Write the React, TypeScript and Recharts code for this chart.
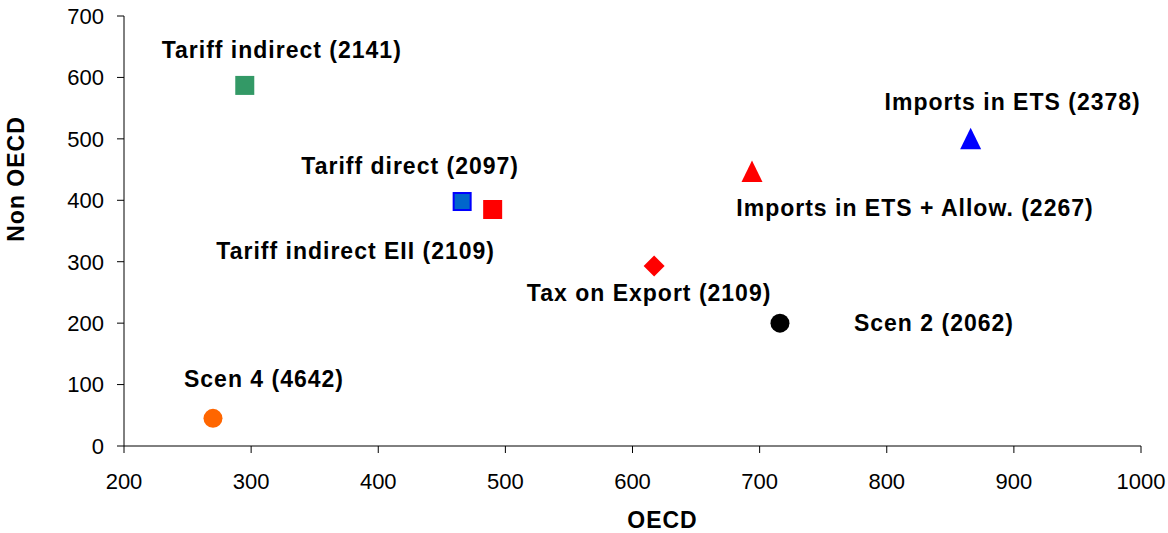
import React from "react";
import { ScatterChart, Scatter, XAxis, YAxis } from "recharts";

const scenarios = [
  "Tariff indirect",
  "Tariff direct",
  "Tariff indirect EII",
  "Tax on Export",
  "Imports in ETS + Allow.",
  "Imports in ETS",
  "Scen 2",
  "Scen 4",
];
const totals = [2141, 2097, 2109, 2109, 2267, 2378, 2062, 4642];
const oecd = [295, 466, 490, 617, 694, 866, 716, 270];
const nonOecd = [587, 398, 385, 293, 447, 500, 200, 45];
const xTicks = [200, 300, 400, 500, 600, 700, 800, 900, 1000];
const yTicks = [0, 100, 200, 300, 400, 500, 600, 700];

// marker look and where the label sits relative to the marker (px)
const styles = [
  { shape: "square", fill: "#339966", dx: 37, dy: -27 },
  { shape: "squareEdge", fill: "#0066CC", stroke: "#0000FF", dx: -52, dy: -28 },
  { shape: "square", fill: "#FF0000", dx: -137, dy: 49 },
  { shape: "diamond", fill: "#FF0000", dx: -5, dy: 35 },
  { shape: "triangle", fill: "#FF0000", dx: 163, dy: 45 },
  { shape: "triangle", fill: "#0000FF", dx: 42, dy: -29 },
  { shape: "circle", fill: "#000000", dx: 154, dy: 8 },
  { shape: "circle", fill: "#FF6600", dx: 51, dy: -31 },
];

const FONT = "'Liberation Sans', Arial, sans-serif";

const Marker = ({ cx, cy, st }: any) => {
  switch (st.shape) {
    case "square":
      return <rect x={cx - 9.5} y={cy - 9.5} width={19} height={19} fill={st.fill} />;
    case "squareEdge":
      return (
        <rect x={cx - 8.5} y={cy - 8.5} width={17} height={17} fill={st.fill} stroke={st.stroke} strokeWidth={2} />
      );
    case "diamond":
      return (
        <polygon
          points={`${cx},${cy - 10.5} ${cx + 10.5},${cy} ${cx},${cy + 10.5} ${cx - 10.5},${cy}`}
          fill={st.fill}
        />
      );
    case "triangle":
      return (
        <polygon
          points={`${cx},${cy - 11} ${cx + 10.5},${cy + 10.5} ${cx - 10.5},${cy + 10.5}`}
          fill={st.fill}
        />
      );
    default:
      return <circle cx={cx} cy={cy} r={9.5} fill={st.fill} />;
  }
};

const tickStyle = { fontSize: 22, fill: "#000", fontFamily: FONT };

export default function App() {
  return (
    <div style={{ position: "absolute", left: 0, top: 0 }}>
      <ScatterChart width={1168} height={533} margin={{ top: 16, right: 27, bottom: 0, left: 0 }}>
        <XAxis
          type="number"
          dataKey="x"
          domain={[200, 1000]}
          ticks={xTicks}
          height={87}
          tickSize={7}
          tickMargin={20}
          stroke="#000"
          tick={tickStyle}
          label={{
            content: ({ viewBox }: any) => (
              <text
                x={viewBox.x + viewBox.width / 2 + 30}
                y={528}
                textAnchor="middle"
                fontFamily={FONT}
                fontSize={23}
                fontWeight="bold"
                letterSpacing={1}
              >
                OECD
              </text>
            ),
          }}
        />
        <YAxis
          type="number"
          dataKey="y"
          domain={[0, 700]}
          ticks={yTicks}
          width={124}
          tickSize={7}
          tickMargin={13}
          stroke="#000"
          tick={tickStyle}
          label={{
            content: () => (
              <text
                transform="translate(24,179) rotate(-90)"
                textAnchor="middle"
                fontFamily={FONT}
                fontSize={23}
                fontWeight="bold"
                letterSpacing={1}
              >
                Non OECD
              </text>
            ),
          }}
        />
        {scenarios.map((name, i) => {
          const st = styles[i];
          return (
            <Scatter
              key={name}
              name={name}
              data={[{ x: oecd[i], y: nonOecd[i] }]}
              isAnimationActive={false}
              shape={(p: any) => (
                <g>
                  <Marker cx={p.cx} cy={p.cy} st={st} />
                  <text
                    x={p.cx + st.dx}
                    y={p.cy + st.dy}
                    textAnchor="middle"
                    fontFamily={FONT}
                    fontSize={23}
                    fontWeight="bold"
                    letterSpacing={1}
                    fill="#000"
                  >
                    {`${name} (${totals[i]})`}
                  </text>
                </g>
              )}
            />
          );
        })}
      </ScatterChart>
    </div>
  );
}
